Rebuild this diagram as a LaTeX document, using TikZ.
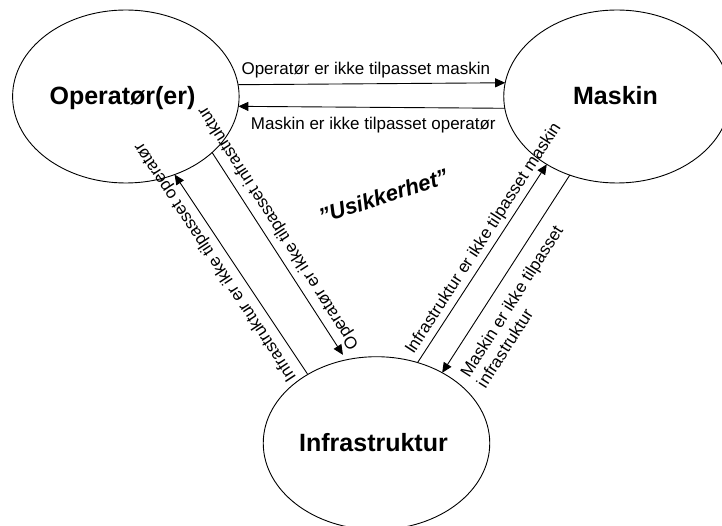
\documentclass[tikz,border=0pt]{standalone}
\usepackage{fontspec}
\setmainfont{Liberation Sans}
\usetikzlibrary{arrows.meta,shapes.geometric}
\begin{document}
\begin{tikzpicture}[x=1pt,y=-1pt,
  actor/.style={draw, ellipse, minimum width=226.5pt, minimum height=173pt,
    inner sep=0pt, outer sep=0pt, line width=0.9pt},
  actorname/.style={font=\fontsize{25}{30}\selectfont\bfseries, anchor=base, inner sep=0pt},
  rel/.style={line width=0.9pt, -{Triangle[length=10pt,width=9pt]}},
  rellabel/.style={font=\fontsize{17}{19.5}\selectfont, inner sep=0pt},
  ]
\useasboundingbox (0,0) rectangle (722,526);

% the three actors
\node[actor] (op)  at (125.85,96.5) {};
\node[actor] (ma)  at (617,96.5) {};
\node[actor] (inf) at (376.5,443.2) {};
\node[actorname] (opname)  at (122.5,105) {Operatør(er)};
\node[actorname] (maname)  at (615.5,105) {Maskin};
\node[actorname] (infname) at (373.5,451) {Infrastruktur};

% operator <-> machine
\draw[rel] (op.6.9) -- (ma.173.1);
\node[rellabel, anchor=base] (l1) at (365.8,75) {Operatør er ikke tilpasset maskin};
\draw[rel] (ma.-174.6) -- (op.-5.4);
\node[rellabel, anchor=base] (l2) at (373.3,130) {Maskin er ikke tilpasset operatør};

% operator <-> infrastructure
\draw[rel, shorten >=6pt] (op.-33.3) -- (inf.110.8);
\node[rellabel, rotate=122.6] (l3) at (278.7,227.7) {Operatør er ikke tilpasset infrastruktur};
\draw[rel] (inf.135.2) -- (op.-58);
\node[rellabel, rotate=123.3] (l4) at (215.6,261.9) {Infrastruktur er ikke tilpasset operatør};

% infrastructure <-> machine
\draw[rel] (inf.63.1) -- (ma.-136.2);
\node[rellabel, rotate=57] (l5) at (483.7,238.9) {Infrastruktur er ikke tilpasset maskin};
\draw[rel] (ma.-121.8) -- (inf.47);
\node[rellabel, rotate=57.5, align=left] (l6) at (519.6,306.4) {Maskin er ikke tilpasset\\infrastruktur};

% centre caption
\node[font=\fontsize{22}{26}\selectfont\bfseries\itshape, rotate=18, inner sep=0pt] (usik)
  at (383.3,196) {”Usikkerhet”};
\end{tikzpicture}
\end{document}
